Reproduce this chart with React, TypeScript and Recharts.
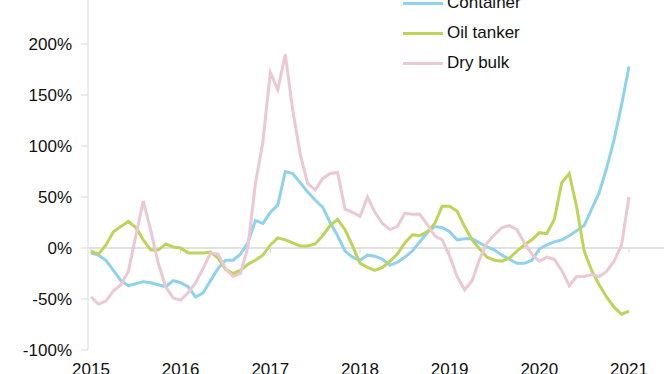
import { LineChart, Line, XAxis, YAxis, ReferenceLine } from "recharts";

// monthly, Jan 2015 .. Jan 2021, % change
const container = [
  -5, -7, -12, -22, -32, -37, -35, -33, -34, -36, -38, -32,
  -34, -38, -48, -44, -32, -20, -12, -12, -6, 5, 27, 24,
  35, 42, 75, 73, 64, 55, 47, 40, 25, 12, -3, -9,
  -12, -7, -8, -11, -17, -14, -9, -3, 6, 15, 21, 20,
  16, 8, 9, 9, 5, 1, -2, -7, -11, -15, -15, -12,
  -1, 3, 6, 8, 12, 17, 22, 38, 54, 78, 106, 140,
  178,
];
const oilTanker = [
  -3, -6, 3, 16, 21, 26, 20, 8, -2, -2, 4, 1,
  0, -5, -5, -5, -4, -10, -21, -25, -22, -16, -12, -7,
  3, 10, 8, 5, 2, 2, 4, 12, 22, 28, 18, 2,
  -15, -19, -22, -19, -13, -6, 5, 13, 12, 16, 24, 41,
  41, 36, 21, 8, -1, -9, -12, -13, -10, -3, 3, 8,
  15, 14, 28, 64, 73, 40, -3, -22, -36, -48, -58, -65,
  -62,
];
const dryBulk = [
  -48, -55, -52, -42, -36, -23, 12, 46, 17, -15, -38, -49,
  -51, -44, -34, -20, -5, -6, -20, -28, -25, 1, 63, 104,
  172, 155, 190, 135, 92, 63, 57, 68, 73, 74, 38, 35,
  31, 50, 35, 24, 18, 21, 34, 33, 33, 23, 12, 8,
  -8, -28, -41, -32, -11, 5, 13, 20, 22, 18, 5, -6,
  -13, -9, -11, -22, -37, -28, -28, -26, -28, -23, -13, 3,
  50,
];
const years = ["2015", "2016", "2017", "2018", "2019", "2020", "2021"];
const yTicks = [-100, -50, 0, 50, 100, 150, 200, 250];

const data = container.map((v, i) => ({
  m: i,
  container: v,
  oil: oilTanker[i],
  dry: dryBulk[i],
}));

const series = [
  { key: "container", name: "Container", color: "#8fd2ee" },
  { key: "oil", name: "Oil tanker", color: "#bdd458" },
  { key: "dry", name: "Dry bulk", color: "#ecc7d4" },
];

const FONT = "'Liberation Sans', Arial, sans-serif";
const GRID = "#d9d9d9";

function LegendBox() {
  return (
    <div
      style={{
        position: "absolute", left: 403, top: -12,
        fontFamily: FONT, fontSize: 17, color: "#111",
      }}
    >
      {series.map((s) => (
        <div key={s.key} style={{ display: "flex", alignItems: "center", height: 30 }}>
          <div style={{ width: 40, height: 3, background: s.color, marginRight: 4 }} />
          <span>{s.name}</span>
        </div>
      ))}
    </div>
  );
}

export default function App() {
  return (
    <div style={{ position: "absolute", left: 0, top: 0, width: 664, height: 374, overflow: "hidden" }}>
      <div style={{ position: "absolute", left: 0, top: -20 }}>
        <LineChart
          width={700}
          height={400}
          data={data}
          margin={{ top: 13, right: 0, left: 0, bottom: 0 }}
          style={{ fontFamily: FONT }}
        >
          <XAxis
            dataKey="m" type="number" domain={[0, 72]} ticks={years.map((_, i) => i * 12)}
            tickFormatter={(v) => years[v / 12]} padding={{ left: 3, right: 71 }}
            axisLine={false} tickLine={false} tickMargin={7} height={30}
            tick={{ fill: "#111", fontSize: 17 }} interval={0}
          />
          <YAxis
            domain={[-100, 250]} ticks={yTicks} width={88} tickFormatter={(v) => `${v}%`}
            tick={{ fill: "#111", fontSize: 17 }} tickSize={7} tickMargin={9}
            axisLine={{ stroke: GRID }} tickLine={{ stroke: GRID }} interval={0}
          />
          <ReferenceLine y={0} stroke={GRID} strokeWidth={1.5} />
          {years.map((_, i) => (
            <ReferenceLine
              key={i}
              segment={[{ x: i * 12, y: 0 }, { x: i * 12, y: -5 }]}
              stroke={GRID}
            />
          ))}
          {series.map((s) => (
            <Line
              key={s.key} type="linear" dataKey={s.key} name={s.name} stroke={s.color}
              strokeWidth={3} dot={false} isAnimationActive={false}
            />
          ))}
        </LineChart>
      </div>
      <LegendBox />
    </div>
  );
}
